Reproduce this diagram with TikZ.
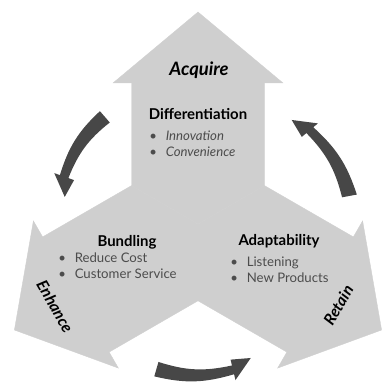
\documentclass[tikz,border=0pt]{standalone}
\usepackage{fontspec}
\setmainfont{Lato}

\begin{document}
\begin{tikzpicture}[x=0.02cm, y=0.02cm,
		bigarrow/.style={fill=gray!38, draw=gray!38, line width=0.2pt},
		turnarrow/.style={fill=black!72},
		heading/.style={font=\fontsize{8.5}{10}\selectfont\bfseries, inner sep=0},
		sidelabel/.style={font=\fontsize{9}{10}\selectfont\bfseries\itshape, inner sep=0},
		items/.style={font=\fontsize{7.5}{9}\selectfont, text=black!70, align=left, anchor=west, inner sep=0}]
		\useasboundingbox (-198,-158) rectangle (186,224);

		% three big arrows round the centre
		\foreach \a in {90,210,330}
			\fill[bigarrow, rotate=\a] (0,0) -- (38.4,-66.5) -- (141,-66.5) -- (141,-85) -- (212,0) -- (141,85) -- (141,66.5) -- (38.4,66.5) -- cycle;

		% curved arrows in the gaps
		\foreach \a/\b/\t/\ra/\rb in {131/160.5/168.5/142/142, 10.5/40/48/154/146, 254/283.5/291.5/151/150}
			\fill[turnarrow] (\a:{\ra+7.5}) to[bend right=15] (\b:{\rb+4.5}) -- (\b:{\rb+10.5}) -- (\t:{\rb-6}) -- (\b:{\rb-10.5}) -- (\b:{\rb-4.5}) to[bend left=15] (\a:{\ra-7.5}) -- cycle;

		\node[sidelabel, font=\fontsize{10.5}{12}\selectfont\bfseries\itshape] (acquire) at (1,154) {Acquire};
		\node[sidelabel, rotate=-60] (enhance) at (210:165) {Enhance};
		\node[sidelabel, rotate=60] (retain) at (330:162) {Retain};

		\node[heading] (diff) at (0,110) {Differentiation};
		\node[items] (difflist) at (-49,80) {\textbullet\hspace{5pt}\textit{Innovation}\\\textbullet\hspace{5pt}\textit{Convenience}};

		\node[heading] (bundling) at (-71,-18) {Bundling};
		\node[items] (bundlist) at (-140,-41.5) {\textbullet\hspace{5pt}Reduce Cost\\\textbullet\hspace{5pt}Customer Service};

		\node[heading] (adapt) at (81,-17) {Adaptability};
		\node[items] (adaptlist) at (32,-46) {\textbullet\hspace{5pt}Listening\\\textbullet\hspace{5pt}New Products};

	\end{tikzpicture}
\end{document}
